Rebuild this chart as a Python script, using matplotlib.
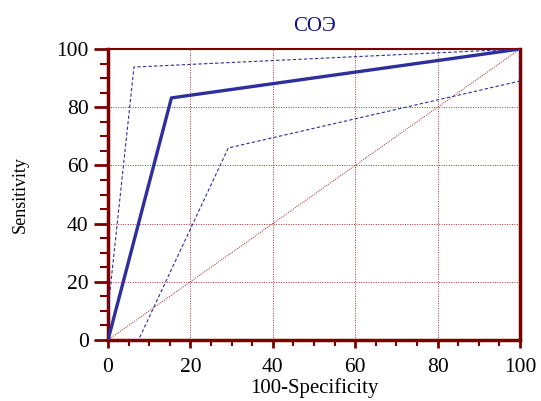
import matplotlib
matplotlib.use("Agg")
import matplotlib.pyplot as plt
from matplotlib.ticker import MultipleLocator

plt.rcParams['font.family'] = ['Liberation Serif', 'DejaVu Serif']

roc_x = [0, 15.4, 100]
roc_y = [0, 83.2, 100]
upper_x = [0, 0, 6.3, 100]
upper_y = [0, 10.3, 93.8, 100]
lower_x = [0, 7.4, 29.2, 100, 100]
lower_y = [0, 0, 66.0, 89.0, 100]
diag = [0, 100]
ticks = [0, 20, 40, 60, 80, 100]

dark_red = '#7a0000'
blue = '#2e2e9c'

fig = plt.figure(figsize=(5.41, 4.01), dpi=100)
ax = fig.add_axes([108/541, 1-340/401, 412/541, 291/401])

for t in ticks[1:-1]:
    ax.axvline(t, color='#b03030', lw=0.7, ls=(0, (1, 1.5)), zorder=1)
    ax.axhline(t, color='#b03030', lw=0.7, ls=(0, (1, 1.5)), zorder=1)

ax.plot(diag, diag, color='#a02828', lw=0.7, ls=(0, (1, 1.2)), zorder=2)
ax.plot(upper_x, upper_y, color=blue, lw=0.8, ls=(0, (3, 2)), zorder=3)
ax.plot(lower_x, lower_y, color=blue, lw=0.8, ls=(0, (3, 2)), zorder=3)
ax.plot(roc_x, roc_y, color=blue, lw=2.4, zorder=4, solid_capstyle='round')

ax.set_xlim(0, 100)
ax.set_ylim(0, 100)
ax.set_xticks(ticks)
ax.set_yticks(ticks)
ax.xaxis.set_minor_locator(MultipleLocator(5))
ax.yaxis.set_minor_locator(MultipleLocator(5))
ax.tick_params(axis='x', which='major', direction='out', length=6, width=2, color=dark_red,
               labelsize=15.5, pad=7)
ax.tick_params(axis='x', which='minor', direction='out', length=4, width=1.5, color=dark_red)
ax.tick_params(axis='y', which='major', direction='out', length=10, width=2, color=dark_red,
               labelsize=15.5, pad=4)
ax.tick_params(axis='y', which='minor', direction='out', length=6, width=1.5, color=dark_red)
ax.tick_params(top=False, right=False, which='both')

for s in ['left', 'bottom', 'right']:
    ax.spines[s].set_color(dark_red)
    ax.spines[s].set_linewidth(2.5)
ax.spines['top'].set_color(dark_red)
ax.spines['top'].set_linewidth(1.5)

ax.set_xlabel('100-Specificity', fontsize=15, labelpad=1)
ax.set_ylabel('Sensitivity', fontsize=13, va='center')
ax.yaxis.set_label_coords(-0.214, 0.5)
ax.set_title('СОЭ', fontsize=15, color='#10107f', pad=13)

fig.savefig('out.png', dpi=100)
